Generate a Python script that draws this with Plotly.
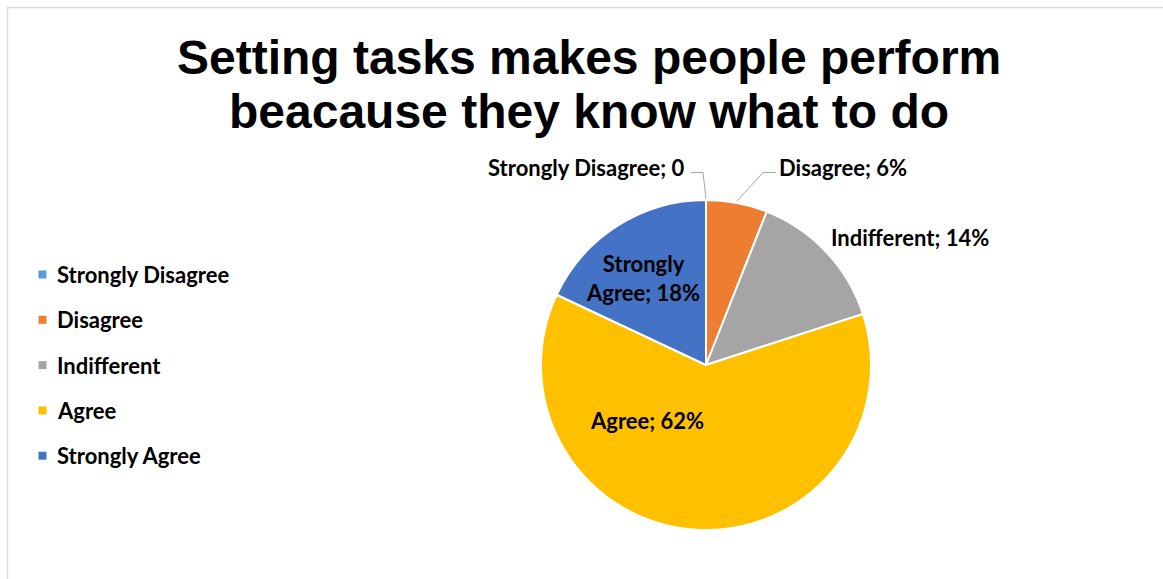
import plotly.graph_objects as go

categories = ["Strongly Disagree", "Disagree", "Indifferent", "Agree", "Strongly Agree"]
values = [0, 6, 14, 62, 18]
value_text = ["0", "6%", "14%", "62%", "18%"]
colors = ["#5B9BD5", "#ED7D31", "#A5A5A5", "#FFC000", "#4472C4"]
title_lines = ["Setting tasks makes people perform", "beacause they know what to do"]

W, H = 1163, 579
def px(x):
    return x / W
def py(y):
    return 1 - y / H

LABEL_FONT = dict(family="Lato", size=22, color="#000000")

fig = go.Figure()
fig.add_trace(go.Pie(
    labels=categories, values=values, sort=False, direction="clockwise", rotation=0,
    marker=dict(colors=colors, line=dict(color="white", width=2)),
    textinfo="none", showlegend=False, hoverinfo="label+value",
    domain=dict(x=[px(706 - 165), px(706 + 165)], y=[py(530), py(200)]),
))

ann = []
shapes = []
# title (two lines)
for line, yc in zip(title_lines, [57.5, 111]):
    ann.append(dict(text=f"<b>{line}</b>", x=px(589), y=py(yc), xref="paper", yref="paper",
                    showarrow=False, xanchor="center", yanchor="middle",
                    font=dict(family="Liberation Sans", size=48, color="#000000")))

labels = []
lab = lambda i: f"<b>{categories[i]}; {value_text[i]}</b>"
labels.append(dict(text=lab(0), x=px(686), y=py(167.5), xanchor="right", yanchor="middle"))
labels.append(dict(text=lab(1), x=px(777), y=py(167.5), xanchor="left", yanchor="middle"))
labels.append(dict(text=lab(2), x=px(829), y=py(237), xanchor="left", yanchor="middle"))
labels.append(dict(text=lab(3), x=px(647), y=py(420), xanchor="center", yanchor="middle"))
labels.append(dict(text="<b>Strongly<br>Agree; " + value_text[4] + "</b>", x=px(643), y=py(278),
                   xanchor="center", yanchor="middle"))

# manual legend
leg_y0, leg_step = 274.5, 45.3
for i, (c, col) in enumerate(zip(categories, colors)):
    yc = leg_y0 + i * leg_step
    labels.append(dict(text=f"<b>{c}</b>", x=px(55), y=py(yc), xanchor="left", yanchor="middle"))
    shapes.append(dict(type="rect", xref="paper", yref="paper", x0=px(38.5), x1=px(46.5),
                       y0=py(yc + 4), y1=py(yc - 4), fillcolor=col, line=dict(width=0)))

for a in labels:
    a.update(xref="paper", yref="paper", showarrow=False, font=LABEL_FONT)
ann += labels

shapes += [
    # chart border
    dict(type="rect", xref="paper", yref="paper", x0=px(7.5), x1=1.02, y0=-0.02, y1=py(7.5),
         line=dict(color="#D9D9D9", width=1.5)),
    # leader lines
    dict(type="path", xref="paper", yref="paper",
         path=f"M {px(691)} {py(172.5)} L {px(703)} {py(172.5)} L {px(706)} {py(199)}",
         line=dict(color="#A6A6A6", width=1)),
    dict(type="path", xref="paper", yref="paper",
         path=f"M {px(776)} {py(172.5)} L {px(763)} {py(172.5)} L {px(737)} {py(201)}",
         line=dict(color="#A6A6A6", width=1)),
]

fig.update_layout(
    width=W, height=H, margin=dict(l=0, r=0, t=0, b=0),
    paper_bgcolor="white", plot_bgcolor="white",
    annotations=ann, shapes=shapes, showlegend=False,
)
fig.write_html("out.html")
